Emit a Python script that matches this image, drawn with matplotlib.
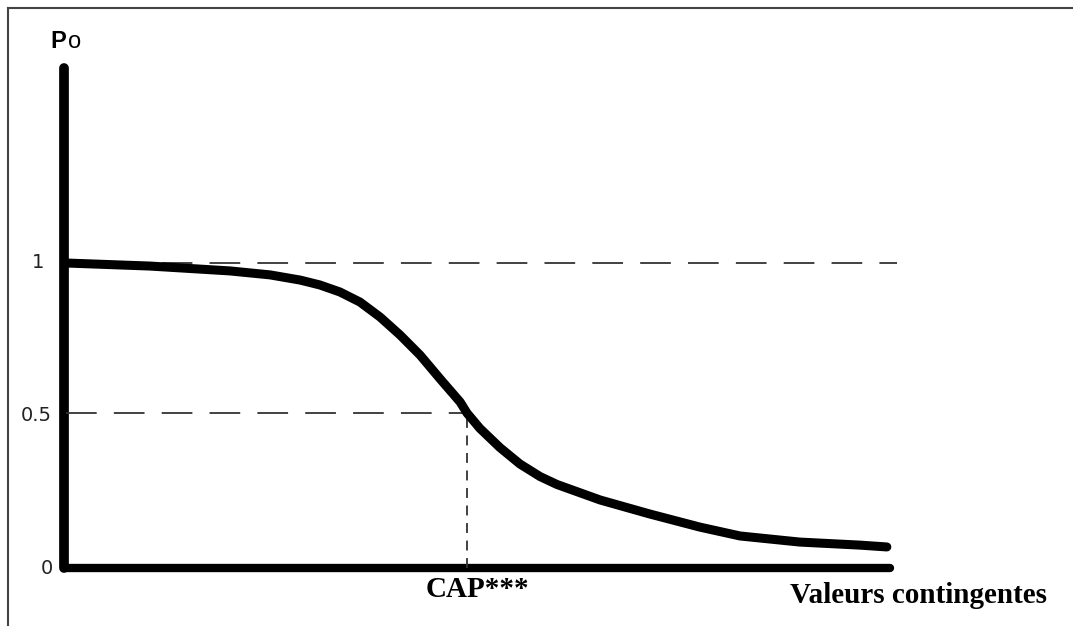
import matplotlib.pyplot as plt
from matplotlib.lines import Line2D

# curve (x: CAP*** = 1, y: probability)
x_vals = [0.0, 0.209, 0.409, 0.509, 0.584, 0.633, 0.683, 0.733, 0.783, 0.833,
          0.883, 0.933, 0.983, 1.0, 1.032, 1.082, 1.132, 1.182, 1.224, 1.332,
          1.456, 1.581, 1.681, 1.830, 1.980, 2.047]
p_vals = [1.0, 0.990, 0.974, 0.961, 0.944, 0.928, 0.905, 0.872, 0.823, 0.764,
          0.698, 0.620, 0.544, 0.508, 0.458, 0.395, 0.341, 0.300, 0.274, 0.223,
          0.177, 0.134, 0.105, 0.085, 0.075, 0.069]

cap_x = 1.0
half = 0.508
x_end = 2.055
y_top = 1.639
dash_end = 2.072

y_ticks = [1, 0.5, 0]
y_tick_labels = ["1", "0.5", "0"]

fig = plt.figure(figsize=(10.73, 6.26), dpi=100)
ax = fig.add_axes([0, 0, 1, 1])
ax.set_xlim(-66 / 401, (1073 - 66) / 401)
ax.set_ylim(-(626 - 568) / 305, 568 / 305)
ax.axis("off")

# frame of the original image
fig.add_artist(Line2D([8 / 1073, 8 / 1073], [0, 1 - 8 / 626], color="#444444", lw=1.5))
fig.add_artist(Line2D([8 / 1073, 1], [1 - 8 / 626, 1 - 8 / 626], color="#444444", lw=1.5))

# axes drawn by hand
ax.plot([-0.004, -0.004], [0, y_top], color="black", lw=7, solid_capstyle="round")
ax.plot([0, x_end], [0, 0], color="black", lw=6, solid_capstyle="round")

# guide lines
ax.plot([0, dash_end], [1, 1], color="#333333", lw=1.3, dashes=(17, 9.5))
ax.plot([0, cap_x], [half, half], color="#333333", lw=1.3, dashes=(17, 9.5))
ax.plot([cap_x, cap_x], [0, half], color="#333333", lw=1.3, dashes=(5.5, 4.2))

ax.plot(x_vals, p_vals, color="black", lw=6.5, solid_capstyle="round",
        solid_joinstyle="round")

tick_x = [-0.07, -0.075, -0.047]
for tx, ty, lab in zip(tick_x, y_ticks, y_tick_labels):
    ax.text(tx, ty, lab, ha="center", va="center", fontsize=14,
            family="DejaVu Sans", color="#222222")

ax.text(-0.04, 1.705, "P", ha="left", va="baseline", fontsize=17,
        family="Liberation Sans", weight="bold")
ax.text(0.004, 1.705, "o", ha="left", va="baseline", fontsize=17,
        family="Liberation Sans")

ax.text(1.027, -0.095, "CAP***", ha="center", va="baseline", fontsize=21,
        family="Liberation Serif", weight="bold")
ax.text(2.127, -0.115, "Valeurs contingentes", ha="center", va="baseline",
        fontsize=21, family="Liberation Serif", weight="bold")

fig.savefig("out.png", dpi=100)
